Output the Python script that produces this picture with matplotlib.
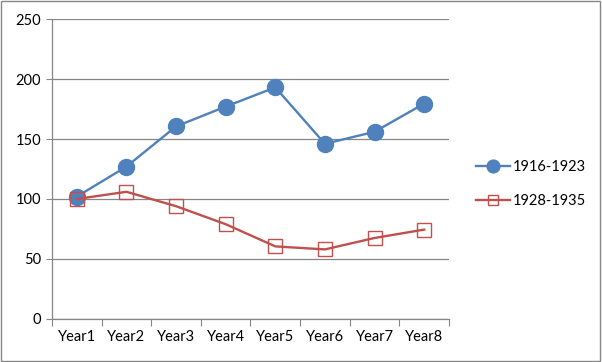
import numpy as np
import matplotlib.pyplot as plt
from matplotlib.patches import Rectangle

years = ["Year1", "Year2", "Year3", "Year4", "Year5", "Year6", "Year7", "Year8"]
s1_name = "1916-1923"
s1_vals = [102, 127, 160.5, 177, 193, 146, 156, 179.5]
s2_name = "1928-1935"
s2_vals = [100, 106, 94, 79, 60.5, 58, 67.5, 74.5]
y_ticks = [0, 50, 100, 150, 200, 250]

blue = "#4F81BD"
red = "#C0504D"
grey = "#868686"

plt.rcParams['font.family'] = ['Lato', 'DejaVu Sans']

fig = plt.figure(figsize=(6.02, 3.62), dpi=100)
ax = fig.add_axes([0.0864, 0.1188, 0.6594, 0.8287])

x = np.arange(len(years))
ax.plot(x, s1_vals, color=blue, lw=1.7, marker='o', ms=11.5,
        mfc=blue, mec=blue, label=s1_name, zorder=3)
ax.plot(x, s2_vals, color=red, lw=1.7, marker='s', ms=9.5,
        mfc='none', mec=red, mew=1.0, label=s2_name, zorder=4)

ax.set_xlim(-0.5, len(years) - 0.5)
ax.set_ylim(0, 250)
ax.set_yticks(y_ticks)
ax.set_xticks(x)
ax.set_xticklabels(years)
ax.set_xticks(np.arange(len(years) + 1) - 0.5, minor=True)
ax.tick_params(axis='x', which='major', length=0, pad=8, labelsize=10.5)
ax.tick_params(axis='x', which='minor', length=5, color=grey, width=0.8)
ax.tick_params(axis='y', length=4, color=grey, width=0.8, pad=4, labelsize=10.5)
ax.yaxis.grid(True, color=grey, lw=0.9)
ax.set_axisbelow(True)
for side in ['top', 'right']:
    ax.spines[side].set_visible(False)
for side in ['left', 'bottom']:
    ax.spines[side].set_color(grey)
    ax.spines[side].set_linewidth(0.9)

ax.legend(loc='center left', bbox_to_anchor=(1.035, 0.45), frameon=False,
          fontsize=10.5, markerscale=0.8, handlelength=2.3, handletextpad=0.25,
          labelspacing=1.35)

fig.patches.append(Rectangle((0.002, 0.003), 0.995, 0.993, transform=fig.transFigure,
                             fill=False, ec=grey, lw=1.0))

fig.savefig("out.png", dpi=100)
